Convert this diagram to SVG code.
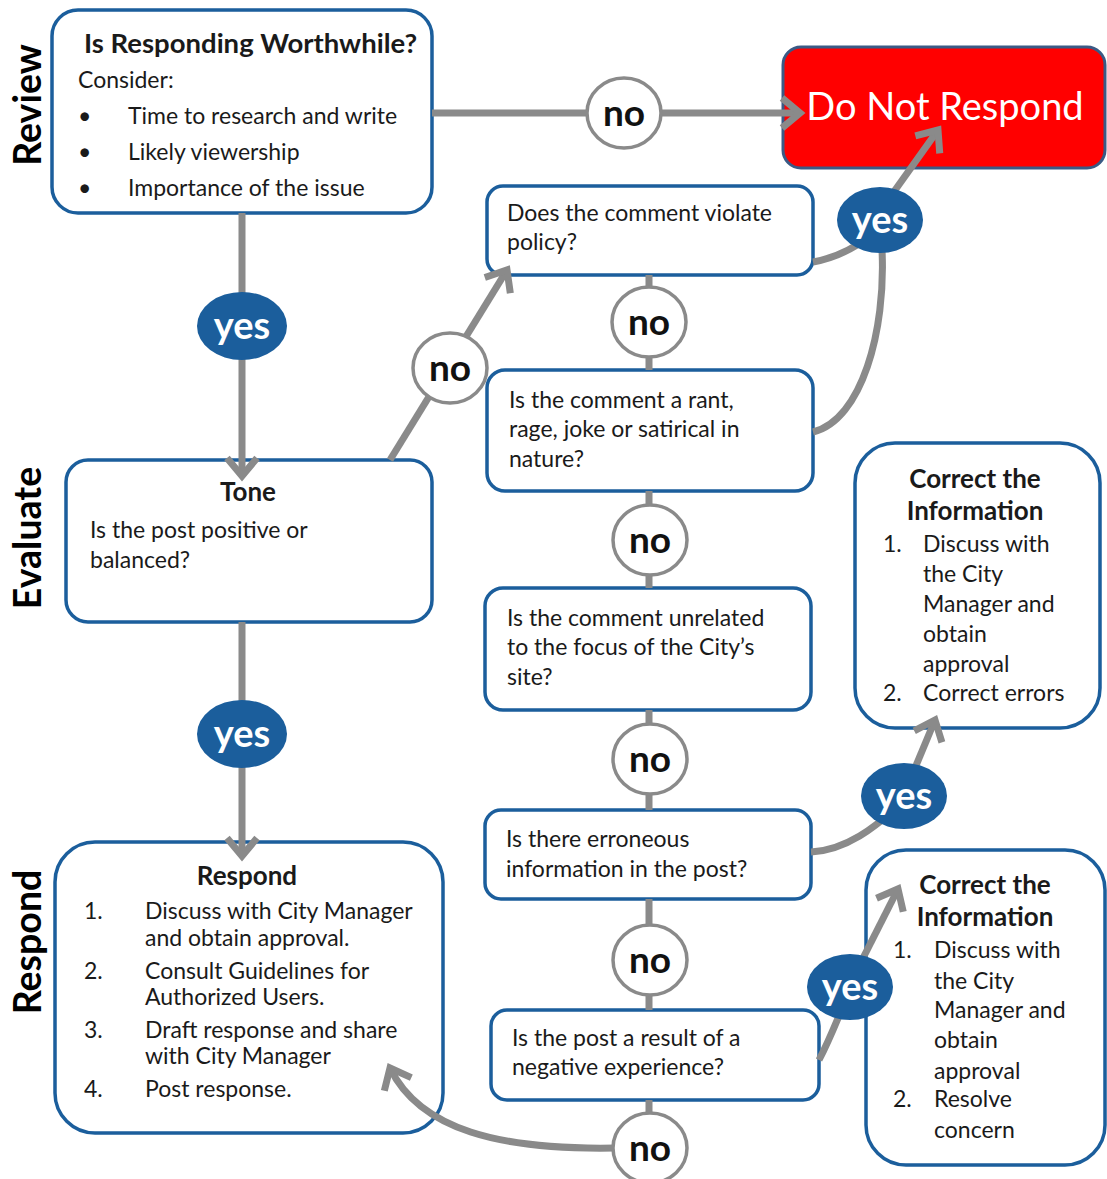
<svg xmlns="http://www.w3.org/2000/svg" width="1107" height="1179" viewBox="0 0 1107 1179">
<defs>
<style>
text{font-family:"Lato","Liberation Sans",sans-serif;fill:#1a1a1a}
.box{fill:#fff;stroke:#1b5e9c;stroke-width:3.5}
.t{font-size:23px}
.b{font-weight:bold;font-size:26px}
.lbl{font-weight:bold;font-size:37.5px;fill:#000}
.con{fill:none;stroke:#8a8a8a;stroke-width:7}
.no{fill:#fff;stroke:#8a8a8a;stroke-width:3.5}
.notx{font-size:37px;font-weight:bold;fill:#111;text-anchor:middle}
.yes{fill:#1b5e9c}
.yestx{font-size:38px;font-weight:bold;fill:#fff;text-anchor:middle}
.c{text-anchor:middle}
</style>
<marker id="arr" markerUnits="userSpaceOnUse" markerWidth="44" markerHeight="44" viewBox="-26 -22 32 44" refX="0" refY="0" orient="auto">
<path d="M -18 -15 L 0 0 L -18 15" fill="none" stroke="#8a8a8a" stroke-width="7"/>
</marker>
</defs>
<rect width="1107" height="1179" fill="#fff"/>

<g id="section-labels">
<text class="lbl" transform="translate(41,105) rotate(-90)" text-anchor="middle">Review</text>
<text class="lbl" transform="translate(41,538) rotate(-90)" text-anchor="middle">Evaluate</text>
<text class="lbl" transform="translate(41,942) rotate(-90)" text-anchor="middle">Respond</text>
</g>

<g id="review">
<rect class="box" x="52" y="10" width="380" height="203" rx="26"/>
<text class="t b" x="84" y="53" style="font-size:27.5px">Is Responding Worthwhile?</text>
<text class="t" x="78" y="88">Consider:</text>
<text class="t" x="78" y="124">•</text><text class="t" x="128" y="124">Time to research and write</text>
<text class="t" x="78" y="160">•</text><text class="t" x="128" y="160">Likely viewership</text>
<text class="t" x="78" y="196">•</text><text class="t" x="128" y="196">Importance of the issue</text>
</g>

<g id="do-not-respond">
<rect x="783" y="47" width="322" height="121" rx="18" fill="#ff0000" stroke="#3a5a85" stroke-width="3"/>
<text x="945" y="120" class="c" style="font-size:38px;fill:#fff">Do Not Respond</text>
</g>

<g id="policy">
<rect class="box" x="487" y="186" width="326" height="89" rx="16"/>
<text class="t" x="507" y="221">Does the comment violate</text>
<text class="t" x="507" y="250">policy?</text>
</g>

<g id="rant">
<rect class="box" x="487" y="370" width="326" height="121" rx="18"/>
<text class="t" x="509" y="408">Is the comment a rant,</text>
<text class="t" x="509" y="437">rage, joke or satirical in</text>
<text class="t" x="509" y="467">nature?</text>
</g>

<g id="unrelated">
<rect class="box" x="485" y="588" width="326" height="122" rx="18"/>
<text class="t" x="507" y="626">Is the comment unrelated</text>
<text class="t" x="507" y="655">to the focus of the City’s</text>
<text class="t" x="507" y="685">site?</text>
</g>

<g id="erroneous">
<rect class="box" x="485" y="810" width="326" height="89" rx="16"/>
<text class="t" x="506" y="847">Is there erroneous</text>
<text class="t" x="506" y="877">information in the post?</text>
</g>

<g id="negative">
<rect class="box" x="491" y="1010" width="328" height="90" rx="16"/>
<text class="t" x="512" y="1046">Is the post a result of a</text>
<text class="t" x="512" y="1075">negative experience?</text>
</g>

<g id="tone">
<rect class="box" x="66" y="460" width="366" height="162" rx="22"/>
<text class="t b c" x="248" y="501">Tone</text>
<text class="t" x="90" y="538">Is the post positive or</text>
<text class="t" x="90" y="568">balanced?</text>
</g>

<g id="respond">
<rect class="box" x="55" y="842" width="388" height="291" rx="40"/>
<text class="t b c" x="247" y="885">Respond</text>
<text class="t" x="84" y="919">1.</text><text class="t" x="145" y="919">Discuss with City Manager</text>
<text class="t" x="145" y="946">and obtain approval.</text>
<text class="t" x="84" y="979">2.</text><text class="t" x="145" y="979">Consult Guidelines for</text>
<text class="t" x="145" y="1005">Authorized Users.</text>
<text class="t" x="84" y="1038">3.</text><text class="t" x="145" y="1038">Draft response and share</text>
<text class="t" x="145" y="1064">with City Manager</text>
<text class="t" x="84" y="1097">4.</text><text class="t" x="145" y="1097">Post response.</text>
</g>

<g id="correct-errors">
<rect class="box" x="855" y="443" width="245" height="285" rx="40"/>
<text class="t b c" x="975" y="488">Correct the</text>
<text class="t b c" x="975" y="520">Information</text>
<text class="t" x="883" y="552">1.</text><text class="t" x="923" y="552">Discuss with</text>
<text class="t" x="923" y="582">the City</text>
<text class="t" x="923" y="612">Manager and</text>
<text class="t" x="923" y="642">obtain</text>
<text class="t" x="923" y="672">approval</text>
<text class="t" x="883" y="701">2.</text><text class="t" x="923" y="701">Correct errors</text>
</g>

<g id="resolve-concern">
<rect class="box" x="866" y="850" width="239" height="315" rx="40"/>
<text class="t b c" x="985" y="894">Correct the</text>
<text class="t b c" x="985" y="926">Information</text>
<text class="t" x="893" y="958">1.</text><text class="t" x="934" y="958">Discuss with</text>
<text class="t" x="934" y="989">the City</text>
<text class="t" x="934" y="1018">Manager and</text>
<text class="t" x="934" y="1048">obtain</text>
<text class="t" x="934" y="1079">approval</text>
<text class="t" x="893" y="1107">2.</text><text class="t" x="934" y="1107">Resolve</text>
<text class="t" x="934" y="1138">concern</text>
</g>

<g id="connectors">
<path class="con" d="M 432 113 L 800 113" marker-end="url(#arr)"/>
<path class="con" d="M 242 213 L 242 476" marker-end="url(#arr)"/>
<path class="con" d="M 242 622 L 242 856" marker-end="url(#arr)"/>
<path class="con" d="M 390 460 L 507 270" marker-end="url(#arr)"/>
<path class="con" d="M 649 275 L 649 370 M 649 491 L 649 588 M 649 710 L 649 810 M 649 899 L 649 1010 M 649 1100 L 649 1179"/>
<path class="con" d="M 813 262 C 835 258 852 250 870 236"/>
<path class="con" d="M 813 432 C 862 420 886 330 882 250"/>
<path class="con" d="M 888 200 L 938 130" marker-end="url(#arr)"/>
<path class="con" d="M 811 852 C 850 850 880 822 900 805"/>
<path class="con" d="M 910 780 L 935 720" marker-end="url(#arr)"/>
<path class="con" d="M 819 1060 C 832 1035 840 1012 846 1000"/>
<path class="con" d="M 858 968 L 898 889" marker-end="url(#arr)"/>
<path class="con" d="M 615 1148 C 500 1150 420 1130 390 1068" marker-end="url(#arr)"/>

<ellipse class="no" cx="624" cy="113" rx="37" ry="35"/><text class="notx" x="624" y="126">no</text>
<ellipse class="no" cx="450" cy="368" rx="37" ry="35"/><text class="notx" x="450" y="381">no</text>
<ellipse class="no" cx="649" cy="322" rx="37" ry="35"/><text class="notx" x="649" y="335">no</text>
<ellipse class="no" cx="650" cy="540" rx="37" ry="35"/><text class="notx" x="650" y="553">no</text>
<ellipse class="no" cx="650" cy="759" rx="37" ry="35"/><text class="notx" x="650" y="772">no</text>
<ellipse class="no" cx="650" cy="960" rx="37" ry="35"/><text class="notx" x="650" y="973">no</text>
<ellipse class="no" cx="650" cy="1148" rx="37" ry="35"/><text class="notx" x="650" y="1161">no</text>

<ellipse class="yes" cx="242" cy="326" rx="45" ry="34"/><text class="yestx" x="242" y="339">yes</text>
<ellipse class="yes" cx="242" cy="734" rx="45" ry="34"/><text class="yestx" x="242" y="747">yes</text>
<ellipse class="yes" cx="880" cy="220" rx="43" ry="33"/><text class="yestx" x="880" y="233">yes</text>
<ellipse class="yes" cx="904" cy="796" rx="43" ry="33"/><text class="yestx" x="904" y="809">yes</text>
<ellipse class="yes" cx="850" cy="987" rx="43" ry="33"/><text class="yestx" x="850" y="1000">yes</text>
</g>
</svg>
